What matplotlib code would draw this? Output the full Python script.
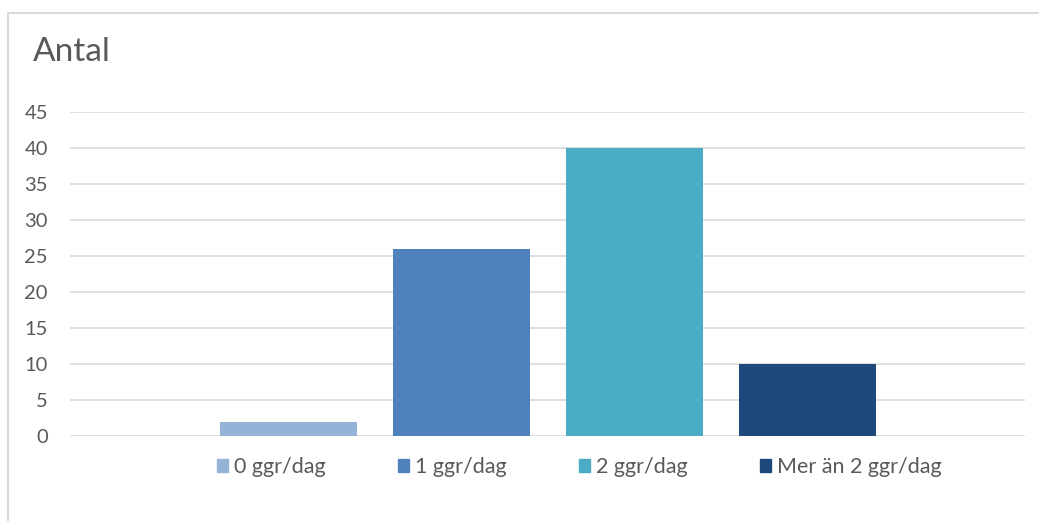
import matplotlib.pyplot as plt
from matplotlib.patches import Rectangle
from matplotlib.lines import Line2D

# data
series = ['0 ggr/dag', '1 ggr/dag', '2 ggr/dag', 'Mer än 2 ggr/dag']
values = [2, 26, 40, 10]
colors = ['#95B3D7', '#4F81BD', '#4BACC6', '#1F497D']
yticks = [0, 5, 10, 15, 20, 25, 30, 35, 40, 45]

plt.rcParams['font.family'] = ['Lato', 'DejaVu Sans']
text_color = '#595959'

W, H = 1039, 521
fig = plt.figure(figsize=(W / 100, H / 100), dpi=100)

# chart border (left + top visible)
fig.add_artist(Line2D([8 / W, 8 / W], [0, 1 - 13 / H], transform=fig.transFigure,
                      color='#D9D9D9', lw=1.5))
fig.add_artist(Line2D([8 / W, 1], [1 - 13 / H, 1 - 13 / H], transform=fig.transFigure,
                      color='#D9D9D9', lw=1.5))

ax = fig.add_axes([70 / W, 85 / H, 955 / W, 324 / H])

xs = list(range(len(values)))
bars = ax.bar(xs, values, width=0.79, color=colors, label=series, zorder=3)

ax.set_xlim(-1.263, 4.257)
ax.set_ylim(0, 45)
ax.set_yticks(yticks)
ax.set_xticks([])
ax.grid(axis='y', color='#D9D9D9', lw=1.2, zorder=0)
for s in ax.spines.values():
    s.set_visible(False)
ax.tick_params(axis='y', length=0, pad=16, labelsize=14.5, labelcolor=text_color)
for lbl in ax.get_yticklabels():
    lbl.set_horizontalalignment('right')

fig.text(33 / W, 1 - 52 / H, 'Antal', fontsize=24, color=text_color, va='center', ha='left')

handles = [Rectangle((0, 0), 1, 1, color=c) for c in colors]
leg = fig.legend(handles, series, loc='center', bbox_to_anchor=(579 / W, 1 - 467 / H),
                 ncol=4, frameon=False, fontsize=15.5, handlelength=0.55, handleheight=0.55,
                 handletextpad=0.25, columnspacing=3.35, labelcolor=text_color)

fig.savefig('out.png', dpi=100)
